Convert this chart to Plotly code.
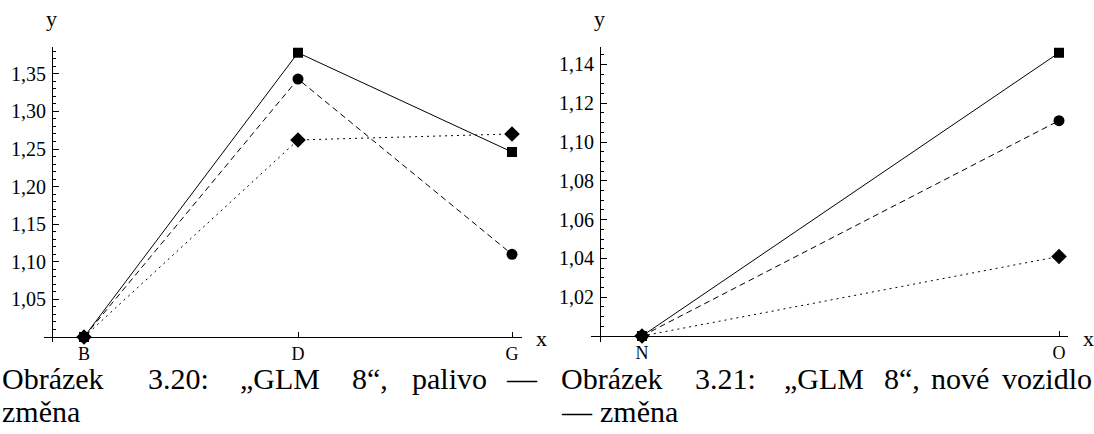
import plotly.graph_objects as go

W, H = 1094, 434

# ---- data ----
left_categories = ["B", "D", "G"]
left_solid_square = [1.0, 1.378, 1.246]
left_dashed_circle = [1.0, 1.343, 1.110]
left_dotted_diamond = [1.0, 1.262, 1.270]
left_yticks = [1.05, 1.10, 1.15, 1.20, 1.25, 1.30, 1.35]

right_categories = ["N", "O"]
right_solid_square = [1.0, 1.146]
right_dashed_circle = [1.0, 1.111]
right_dotted_diamond = [1.0, 1.041]
right_yticks = [1.02, 1.04, 1.06, 1.08, 1.10, 1.12, 1.14]

caption_left_line1 = ["Obrázek", "3.20:", "„GLM", "8“,", "palivo", "—"]
caption_left_line2 = ["změna"]
caption_right_line1 = ["Obrázek", "3.21:", "„GLM", "8“,", "nové", "vozidlo"]
caption_right_line2 = ["—", "změna"]


def fx(p):
    return p / W


def fy(p):
    return 1 - p / H


SERIF = "'Liberation Serif', 'Times New Roman', 'DejaVu Serif', serif"
fig = go.Figure()

series = [
    ("solid", "square", 10, left_solid_square, right_solid_square),
    ("dot2", "diamond", 12, left_dotted_diamond, right_dotted_diamond),
    ("dash2", "circle", 11, left_dashed_circle, right_dashed_circle),
]
dash_map = {"solid": "solid", "dot2": "2px,4px", "dash2": "6px,4px"}
for dash, sym, msize, lv, rv in series:
    fig.add_trace(go.Scatter(
        x=left_categories, y=lv, mode="lines+markers", xaxis="x", yaxis="y",
        line=dict(color="black", width=1, dash=dash_map[dash]),
        marker=dict(symbol=sym, size=msize, color="black"),
        cliponaxis=False, showlegend=False))
    fig.add_trace(go.Scatter(
        x=right_categories, y=rv, mode="lines+markers", xaxis="x2", yaxis="y2",
        line=dict(color="black", width=1, dash=dash_map[dash]),
        marker=dict(symbol=sym, size=msize, color="black"),
        cliponaxis=False, showlegend=False))

axis_common = dict(showgrid=False, zeroline=False, showline=True,
                   linecolor="black", linewidth=1, ticks="inside",
                   tickcolor="black", tickwidth=1)
yfont = dict(family=SERIF, size=20, color="black")
xfont = dict(family=SERIF, size=18, color="black")

fig.update_layout(
    xaxis=dict(domain=[fx(43.5), fx(522)], anchor="free", position=fy(337),
               type="category", categoryorder="array", categoryarray=left_categories,
               range=[-40.5 / 214, (522 - 84) / 214], ticklen=5,
               ticklabelstandoff=0, tickfont=xfont, **axis_common),
    yaxis=dict(domain=[fy(342), fy(47)], anchor="free", position=fx(52),
               range=[1.0 - 5 / 752, 1.0 + 290 / 752], tickmode="array",
               tickvals=left_yticks, tickformat=".2f", ticklen=6,
               ticklabelstandoff=2, tickfont=yfont,
               minor=dict(tick0=1.0, dtick=0.01, ticks="inside", ticklen=3,
                          tickcolor="black", tickwidth=1),
               **axis_common),
    xaxis2=dict(domain=[fx(591), fx(1068)], anchor="free", position=fy(336),
                type="category", categoryorder="array", categoryarray=right_categories,
                range=[(591 - 642) / 417, (1068 - 642) / 417], ticklen=5,
                ticklabelstandoff=0, tickfont=xfont, **axis_common),
    yaxis2=dict(domain=[fy(342), fy(47)], anchor="free", position=fx(600),
                range=[1.0 - 6 / 1940, 1.0 + 289 / 1940], tickmode="array",
                tickvals=right_yticks, tickformat=".2f", ticklen=6,
                ticklabelstandoff=2, tickfont=yfont,
                minor=dict(tick0=1.0, dtick=0.005, ticks="inside", ticklen=3,
                           tickcolor="black", tickwidth=1),
                **axis_common),
)

annotations = []
for (x, y, t) in [(51, 18, "y"), (599, 18, "y"), (541, 338, "x"), (1088, 338, "x")]:
    annotations.append(dict(x=fx(x), y=fy(y), xref="paper", yref="paper", text=t,
                            showarrow=False, xanchor="center", yanchor="middle",
                            font=dict(family=SERIF, size=22, color="black")))

cap_font = dict(family=SERIF, size=30, color="black")
left_l1_x = [0, 146, 238, 350, 410, 540]
right_l1_x = [559, 693, 782, 882, 929, 1094]
for words, xs in [(caption_left_line1, left_l1_x), (caption_right_line1, right_l1_x)]:
    for i, (w, x) in enumerate(zip(words, xs)):
        last = i == len(words) - 1
        annotations.append(dict(x=fx(x), y=fy(397), xref="paper", yref="paper", text=w,
                                showarrow=False, xanchor="right" if last else "left",
                                yanchor="bottom", font=cap_font))
for words, xs in [(caption_left_line2, [0]), (caption_right_line2, [559, 598])]:
    for w, x in zip(words, xs):
        annotations.append(dict(x=fx(x), y=fy(430), xref="paper", yref="paper", text=w,
                                showarrow=False, xanchor="left",
                                yanchor="bottom", font=cap_font))

fig.update_layout(
    width=W, height=H, margin=dict(l=0, r=0, t=0, b=0),
    paper_bgcolor="white", plot_bgcolor="white",
    separators=",.", showlegend=False, annotations=annotations,
)

fig.write_html("out.html")
